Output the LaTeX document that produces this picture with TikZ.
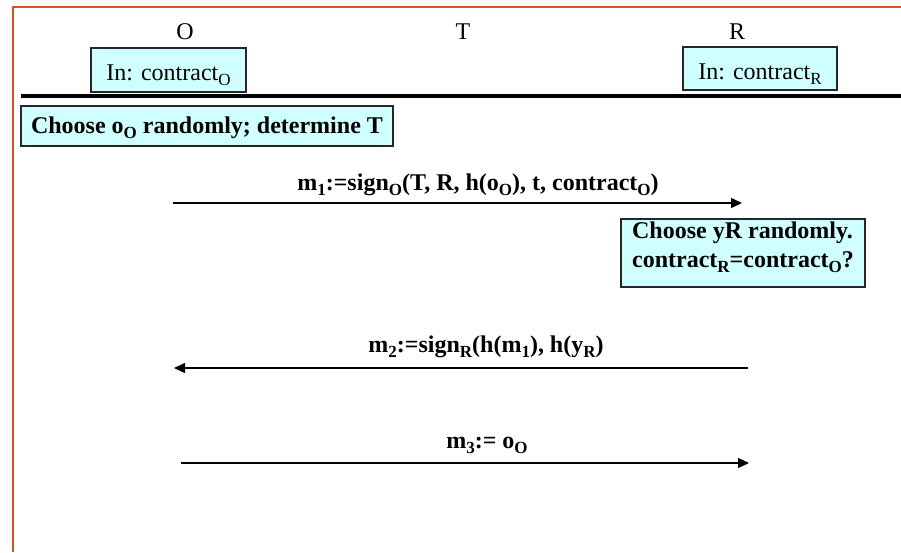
\documentclass[tikz,border=0pt]{standalone}
\usepackage{fontspec}
\setmainfont{Liberation Serif}
\usetikzlibrary{arrows.meta}
\definecolor{boxfill}{RGB}{208,255,255}
\definecolor{frameorange}{RGB}{214,84,24}
\newcommand{\sbs}[1]{\raisebox{-5pt}{\fontsize{17}{17}\selectfont #1}}
\begin{document}
\begin{tikzpicture}[x=1pt,y=-1pt,
  partylbl/.style={font=\fontsize{24}{28}\selectfont, inner sep=0pt, anchor=base},
  inbox/.style={draw=black!85, fill=boxfill, line width=1.2pt, inner sep=0pt,
    font=\fontsize{24}{28}\selectfont, text height=21pt, text depth=0pt},
  actbox/.style={draw=black!85, fill=boxfill, line width=1.2pt, inner sep=0pt,
    font=\fontsize{24}{29}\selectfont\bfseries},
  msglbl/.style={font=\fontsize{24}{28}\selectfont\bfseries, inner sep=0pt, anchor=base},
  msg/.style={line width=1.3pt, -{Triangle[length=11pt,width=10pt]}}]
\useasboundingbox (0,0) rectangle (901,552);
% frame
\coordinate (fb) at (13,552);
\coordinate (fc) at (13,7);
\coordinate (fr) at (901,7);
\draw[frameorange, line width=1.8pt] (fb) -- (fc) -- (fr);
% parties
\node[partylbl] (O) at (185,39) {O};
\node[partylbl] (T) at (463,39) {T};
\node[partylbl] (R) at (737,39) {R};
% input boxes
\node[inbox, minimum width=155pt, minimum height=44pt] (inO) at (168.5,70) {In: contract\sbs{O}};
\node[inbox, minimum width=154pt, minimum height=43pt] (inR) at (760,68.5) {In: contract\sbs{R}};
% separator
\coordinate (sepL) at (21,96);
\coordinate (sepR) at (901,96);
\draw[line width=3.3pt] (sepL) -- (sepR);
% O action
\node[actbox, minimum width=372pt, minimum height=40pt, text height=14pt, text depth=0pt] (actO) at (207,126)
  {Choose o\sbs{O} randomly; determine T};
% m1
\node[msglbl] (m1) at (478,190) {m\sbs{1}:=sign\sbs{O}(T, R, h(o\sbs{O}), t, contract\sbs{O})};
\coordinate (m1s) at (173,203);
\coordinate (m1e) at (742,203);
\draw[msg] (m1s) -- (m1e);
% R action
\node[actbox, minimum width=244pt, minimum height=68pt, align=left] (actR) at (743,253)
  {\rule{0pt}{17pt}Choose yR randomly.\\contract\sbs{R}=contract\sbs{O}?\rule[-18pt]{0pt}{18pt}};
% m2
\node[msglbl] (m2) at (486,352) {m\sbs{2}:=sign\sbs{R}(h(m\sbs{1}), h(y\sbs{R})};
\coordinate (m2s) at (748,368);
\coordinate (m2e) at (174,368);
\draw[msg] (m2s) -- (m2e);
% m3
\node[msglbl] (m3) at (487,448) {m\sbs{3}:= o\sbs{O}};
\coordinate (m3s) at (181,463);
\coordinate (m3e) at (749,463);
\draw[msg] (m3s) -- (m3e);
\end{tikzpicture}
\end{document}
